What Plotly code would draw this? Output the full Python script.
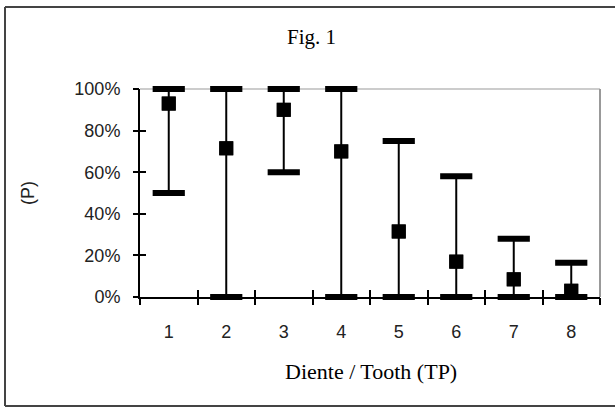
import plotly.graph_objects as go

# ---- data ----
teeth = [1, 2, 3, 4, 5, 6, 7, 8]
tooth_labels = ["1", "2", "3", "4", "5", "6", "7", "8"]
mean_p = [0.93, 0.715, 0.90, 0.70, 0.315, 0.17, 0.085, 0.03]
lower_p = [0.50, 0.0, 0.60, 0.0, 0.0, 0.0, 0.0, 0.0]
upper_p = [1.00, 1.00, 1.00, 1.00, 0.75, 0.58, 0.28, 0.165]
y_ticks = [0, 0.2, 0.4, 0.6, 0.8, 1.0]
x_bounds = [0.5, 1.5, 2.5, 3.5, 4.5, 5.5, 6.5, 7.5, 8.5]

W, H = 615, 409
L, R, T, B = 140, 15, 89, 112
pw, ph = W - L - R, H - T - B

def px_x(x):
    return (x - L) / pw

def px_y(y):
    return (H - B - y) / ph

sans = "Liberation Sans, Arial, sans-serif"
serif = "Liberation Serif, Times New Roman, serif"

fig = go.Figure()

# vertical range lines
fig.add_trace(go.Scatter(
    x=teeth, y=mean_p, mode="markers",
    marker=dict(symbol="square", size=14, color="black"),
    error_y=dict(type="data", symmetric=False,
                 array=[u - m for u, m in zip(upper_p, mean_p)],
                 arrayminus=[m - l for m, l in zip(mean_p, lower_p)],
                 width=0, thickness=2, color="black"),
    cliponaxis=False, showlegend=False, hoverinfo="skip"))

# caps
fig.add_trace(go.Scatter(
    x=teeth + teeth, y=lower_p + upper_p, mode="markers",
    marker=dict(symbol="line-ew", size=23, color="black",
                line=dict(width=6, color="black")),
    cliponaxis=False, showlegend=False, hoverinfo="skip"))

# means on top
fig.add_trace(go.Scatter(
    x=teeth, y=mean_p, mode="markers",
    marker=dict(symbol="square", size=14, color="black"),
    cliponaxis=False, showlegend=False, hoverinfo="skip"))

# invisible traces to activate tick axes
fig.add_trace(go.Scatter(x=[1], y=[0.5], xaxis="x2", yaxis="y2", mode="markers",
                         marker=dict(opacity=0), showlegend=False, hoverinfo="skip"))
fig.add_trace(go.Scatter(x=[1], y=[0.5], xaxis="x3", yaxis="y3", mode="markers",
                         marker=dict(opacity=0), showlegend=False, hoverinfo="skip"))

xr = [0.5, 8.5]
yr = [0, 1.0]

frame = dict(color="#444", width=2)

fig.update_layout(
    width=W, height=H,
    margin=dict(l=L, r=R, t=T, b=B),
    paper_bgcolor="white", plot_bgcolor="white",
    xaxis=dict(range=xr, tickvals=teeth, ticktext=tooth_labels,
               ticks="outside", ticklen=17, tickcolor="rgba(0,0,0,0)",
               showline=True, linecolor="black", linewidth=2,
               showgrid=False, zeroline=False,
               tickfont=dict(family=sans, size=18, color="#222")),
    yaxis=dict(range=yr, tickvals=y_ticks, tickformat=".0%",
               ticks="outside", ticklen=14, tickcolor="rgba(0,0,0,0)",
               showline=True, linecolor="black", linewidth=2,
               showgrid=False, zeroline=False,
               tickfont=dict(family=sans, size=18, color="#222")),
    xaxis2=dict(range=xr, overlaying="x", anchor="y", tickvals=x_bounds,
                ticks="outside", ticklen=7, tickwidth=2, tickcolor="black",
                showticklabels=False, showline=False, showgrid=False, zeroline=False),
    yaxis2=dict(range=yr, overlaying="y", anchor="x", tickvals=y_ticks,
                ticks="outside", ticklen=6, tickwidth=2, tickcolor="black",
                showticklabels=False, showline=False, showgrid=False, zeroline=False),
    xaxis3=dict(range=xr, overlaying="x", anchor="y", tickvals=x_bounds,
                ticks="inside", ticklen=7, tickwidth=2, tickcolor="black",
                showticklabels=False, showline=False, showgrid=False, zeroline=False),
    yaxis3=dict(range=yr, overlaying="y", anchor="x", tickvals=y_ticks,
                ticks="inside", ticklen=6, tickwidth=2, tickcolor="black",
                showticklabels=False, showline=False, showgrid=False, zeroline=False),
    shapes=[
        # outer frame: left, top, bottom (right edge lies beyond the picture)
        dict(type="line", xref="paper", yref="paper",
             x0=px_x(5), x1=px_x(5), y0=px_y(406), y1=px_y(7), line=frame, layer="below"),
        dict(type="line", xref="paper", yref="paper",
             x0=px_x(5), x1=px_x(W), y0=px_y(7), y1=px_y(7), line=frame, layer="below"),
        dict(type="line", xref="paper", yref="paper",
             x0=px_x(5), x1=px_x(W), y0=px_y(406), y1=px_y(406), line=frame, layer="below"),
        # top and right gray plot borders
        dict(type="line", xref="paper", yref="paper", x0=0, x1=1, y0=1, y1=1,
             line=dict(color="#999", width=1), layer="below"),
        dict(type="line", xref="paper", yref="paper", x0=1, x1=1, y0=0, y1=1,
             line=dict(color="#999", width=2), layer="below"),
    ],
    annotations=[
        dict(text="Fig. 1", xref="paper", yref="paper", x=px_x(311), y=px_y(37),
             showarrow=False, xanchor="center", yanchor="middle",
             font=dict(family=serif, size=21, color="black")),
        dict(text="Diente / Tooth (TP)", xref="paper", yref="paper", x=px_x(371), y=px_y(371),
             showarrow=False, xanchor="center", yanchor="middle",
             font=dict(family=serif, size=22, color="black")),
        dict(text="(P)", xref="paper", yref="paper", x=px_x(28), y=px_y(193),
             showarrow=False, xanchor="center", yanchor="middle", textangle=-90,
             font=dict(family=sans, size=18, color="#222")),
    ],
)

fig.write_html("out.html", config={"displayModeBar": False},
               post_script="document.body.style.margin='0';document.body.style.padding='0';")
